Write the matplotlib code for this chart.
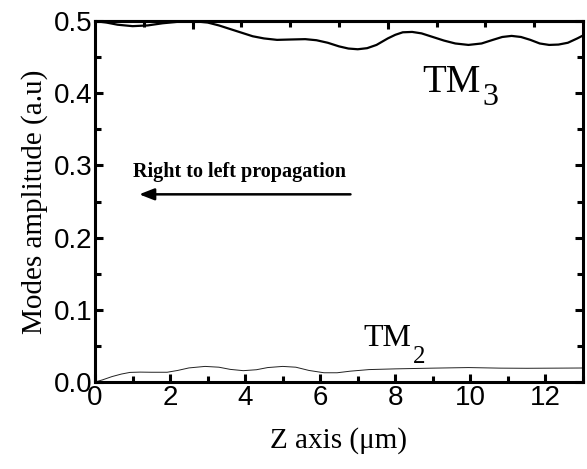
import numpy as np
import matplotlib
matplotlib.use("Agg")
import matplotlib.pyplot as plt
from matplotlib.ticker import MultipleLocator, FormatStrFormatter

# TM3 amplitude along z
z_tm3 = [0, 0.3, 0.6, 1.0, 1.4, 1.8, 2.2, 2.6, 3.0, 3.3, 3.6, 3.9, 4.2, 4.5, 4.85,
         5.2, 5.6, 5.9, 6.2, 6.5, 6.75, 7.0, 7.25, 7.5, 7.8, 8.0, 8.2, 8.45, 8.7,
         9.0, 9.3, 9.6, 9.95, 10.3, 10.6, 10.85, 11.1, 11.35, 11.6, 11.85, 12.1,
         12.35, 12.6, 12.85, 13.0]
a_tm3 = [0.500, 0.498, 0.495, 0.493, 0.494, 0.497, 0.499, 0.500, 0.498, 0.494,
         0.489, 0.484, 0.479, 0.476, 0.474, 0.4745, 0.475, 0.4735, 0.470, 0.465,
         0.462, 0.461, 0.4625, 0.467, 0.476, 0.481, 0.4845, 0.485, 0.483, 0.478,
         0.473, 0.469, 0.467, 0.469, 0.474, 0.478, 0.4795, 0.478, 0.474, 0.469,
         0.467, 0.4675, 0.470, 0.476, 0.480]

# TM2 amplitude along z
z_tm2 = [0, 0.2, 0.45, 0.7, 0.93, 1.2, 1.5, 1.92, 2.2, 2.5, 2.93, 3.3, 3.6, 3.95,
         4.3, 4.6, 5.0, 5.35, 5.7, 6.1, 6.45, 6.8, 7.3, 8.0, 9.0, 9.95, 10.8, 11.5,
         12.3, 13.0]
a_tm2 = [0.000, 0.003, 0.0075, 0.011, 0.0133, 0.0137, 0.0135, 0.0135, 0.016, 0.0195,
         0.0216, 0.0205, 0.0175, 0.0157, 0.017, 0.0200, 0.0216, 0.0205, 0.016, 0.0128,
         0.0128, 0.015, 0.0172, 0.0182, 0.0192, 0.0200, 0.0192, 0.0190, 0.0192, 0.0194]

serif = ["Liberation Serif", "DejaVu Serif"]
sans = ["Liberation Sans", "DejaVu Sans"]

fig = plt.figure(figsize=(5.87, 4.69), dpi=100)
ax = fig.add_axes([0.162, 0.1855, 0.831, 0.7695])

ax.plot(z_tm3, a_tm3, color="black", lw=1.6)
ax.plot(z_tm2, a_tm2, color="#222222", lw=0.7)

ax.set_xlim(0, 13)
ax.set_ylim(0, 0.5)
ax.xaxis.set_major_locator(MultipleLocator(2))
ax.xaxis.set_minor_locator(MultipleLocator(1))
ax.yaxis.set_major_locator(MultipleLocator(0.1))
ax.yaxis.set_minor_locator(MultipleLocator(0.05))
ax.yaxis.set_major_formatter(FormatStrFormatter("%.1f"))

for s in ax.spines.values():
    s.set_linewidth(2.2)
ax.tick_params(which="major", direction="in", length=6, width=2.2,
               labelsize=20, pad=2, right=True)
ax.tick_params(which="minor", direction="in", length=4, width=2.2, right=True)
for lab in ax.get_xticklabels() + ax.get_yticklabels():
    lab.set_family(sans)

# top axis has its own tick spacing
top = ax.secondary_xaxis("top")
top.set_xticks([2.6, 7.8])
top.set_xticks([1.3, 3.9, 5.2, 6.5, 9.1, 10.4, 11.7], minor=True)
top.tick_params(which="major", direction="in", length=6, width=2.2, labeltop=False)
top.tick_params(which="minor", direction="in", length=4, width=2.2)
top.spines["top"].set_linewidth(2.2)

ax.set_xlabel("Z axis (\u03bcm)", fontsize=21, family=serif, labelpad=12)
ax.set_ylabel("Modes amplitude (a.u)", fontsize=21, family=serif, labelpad=4)

ax.text(8.72, 0.402, "TM", fontsize=28, family=serif)
ax.text(10.32, 0.384, "3", fontsize=23, family=serif)
ax.text(7.15, 0.050, "TM", fontsize=23, family=serif)
ax.text(8.48, 0.026, "2", fontsize=18, family=serif)

ax.text(1.01, 0.291, "Right to left propagation", fontsize=14.5, family=serif,
        fontweight="bold", va="center")
ax.annotate("", xy=(1.1, 0.26), xytext=(6.88, 0.26),
            arrowprops=dict(arrowstyle="-|>,head_length=0.9,head_width=0.35",
                            color="black", lw=1.8))

fig.savefig("out.png", dpi=100)
